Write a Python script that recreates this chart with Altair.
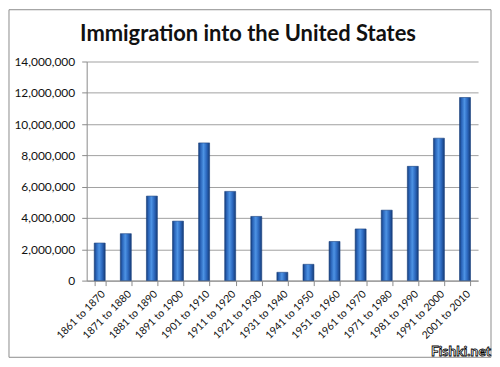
import altair as alt
import pandas as pd

periods = ["1861 to 1870", "1871 to 1880", "1881 to 1890", "1891 to 1900", "1901 to 1910",
           "1911 to 1920", "1921 to 1930", "1931 to 1940", "1941 to 1950", "1951 to 1960",
           "1961 to 1970", "1971 to 1980", "1981 to 1990", "1991 to 2000", "2001 to 2010"]
immigrants = [2400000, 3000000, 5400000, 3800000, 8800000, 5700000, 4100000, 530000,
              1040000, 2500000, 3300000, 4500000, 7300000, 9100000, 11700000]
y_ticks = [0, 2000000, 4000000, 6000000, 8000000, 10000000, 12000000, 14000000]

df = pd.DataFrame({"period": periods, "immigrants": immigrants})
one = pd.DataFrame({"a": [0]})

grad = alt.Gradient(
    gradient="linear", x1=0, x2=1, y1=0, y2=0,
    stops=[
        alt.GradientStop(offset=0, color="#163c78"),
        alt.GradientStop(offset=0.18, color="#2a64b8"),
        alt.GradientStop(offset=0.45, color="#4d93e4"),
        alt.GradientStop(offset=0.72, color="#2c68be"),
        alt.GradientStop(offset=1, color="#163c78"),
    ],
)

bars = alt.Chart(df).mark_bar(color=grad, stroke="#17407f", strokeWidth=0.6).encode(
    x=alt.X("period:N", sort=periods, title=None,
            scale=alt.Scale(paddingInner=0.58, paddingOuter=0.29),
            axis=alt.Axis(labelAngle=-45, labelFont="Lato", labelFontSize=10.5,
                          labelColor="#111111", tickBand="extent", tickSize=5,
                          tickColor="#8a8a8a", domainColor="#8a8a8a", labelPadding=3)),
    y=alt.Y("immigrants:Q", title=None,
            scale=alt.Scale(domain=[0, 14000000]),
            axis=alt.Axis(values=y_ticks, labelExpr="format(datum.value, ',.0f')",
                          labelFont="Lato", labelFontSize=12,
                          labelColor="#111111", grid=True, gridColor="#a0a0a0",
                          tickSize=5, tickColor="#8a8a8a", domainColor="#8a8a8a",
                          labelPadding=7)),
)

border = alt.Chart(one).mark_rect(fillOpacity=0, stroke="#8c8c8c", strokeWidth=1).encode(
    x=alt.value(-78), x2=alt.value(406), y=alt.value(-52), y2=alt.value(297)
)

title = alt.Chart(one).mark_text(text="Immigration into the United States", font="Lato",
                                 fontSize=22, fontWeight="bold", color="#111111",
                                 align="center", baseline="alphabetic").encode(
    x=alt.value(162), y=alt.value(-21)
)

mark = alt.Chart(one).mark_text(text="Fishki.net", font="Lato", fontSize=14, fontWeight="bold",
                                fill="white", stroke="black", strokeWidth=0.8,
                                align="right", baseline="bottom").encode(
    x=alt.value(406), y=alt.value(299)
)

chart = alt.layer(bars, border, title, mark).properties(
    width=393, height=220,
    padding=0,
).configure_view(strokeWidth=0)

chart.save("out.html", embed_options={"renderer": "svg", "actions": False})
